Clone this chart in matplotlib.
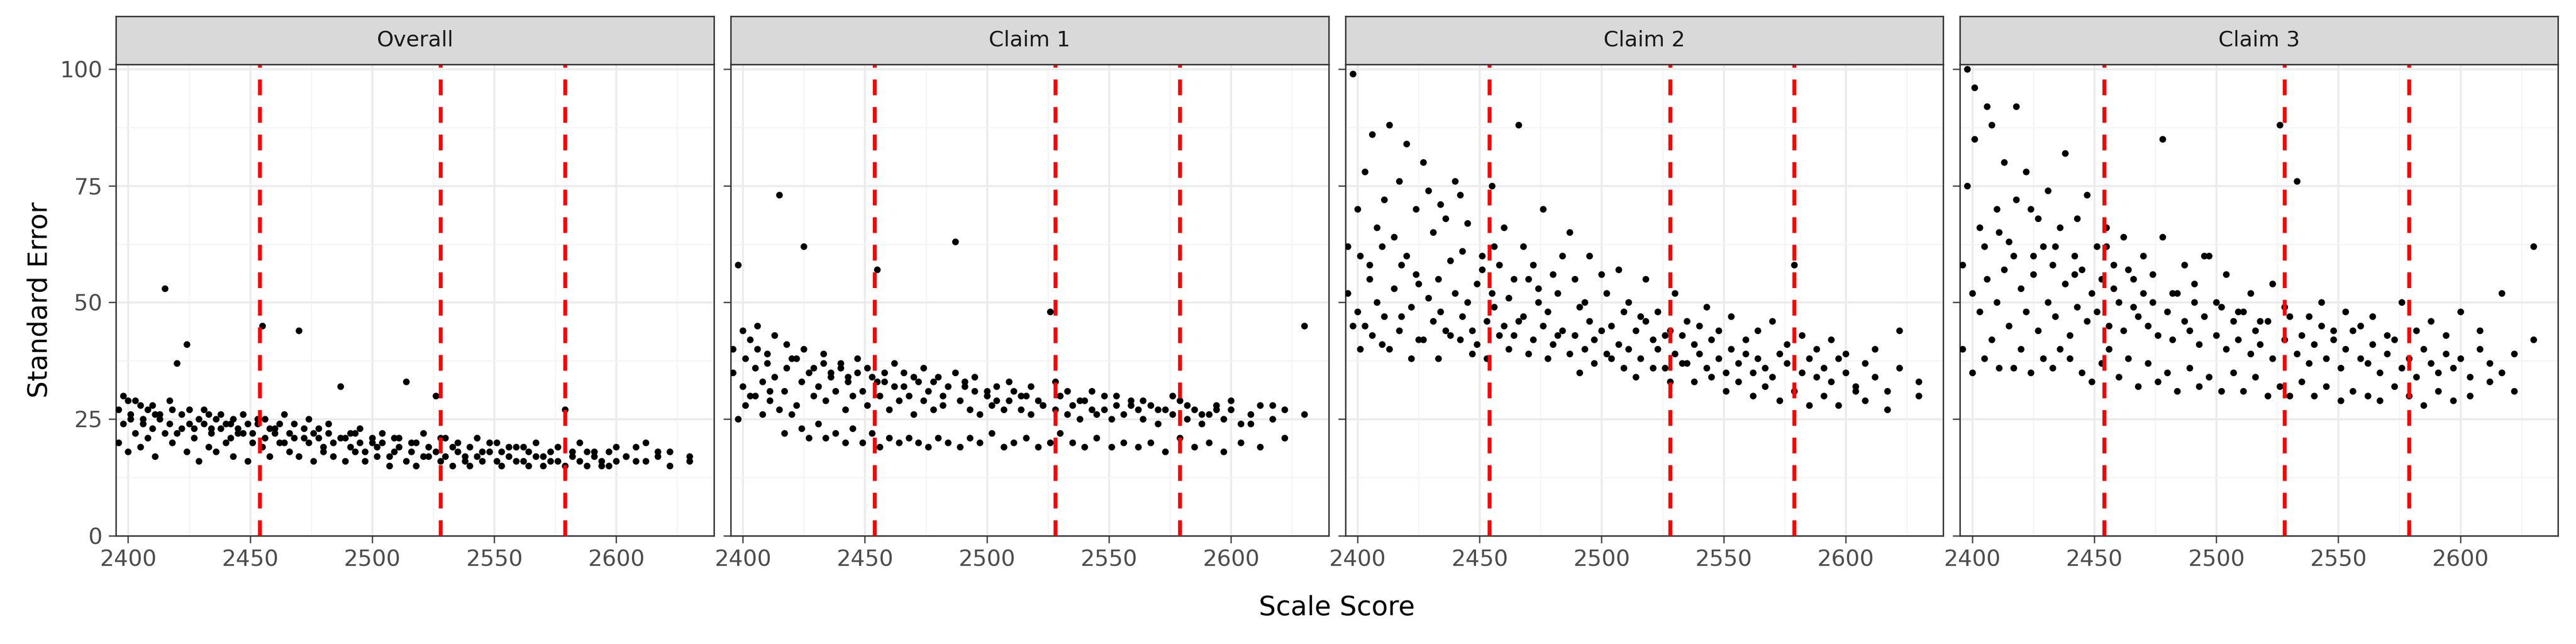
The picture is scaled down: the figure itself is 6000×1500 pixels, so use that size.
import matplotlib.pyplot as plt
from matplotlib.ticker import MultipleLocator

# scale scores (shared across panels)
scale_score = [
    2396, 2398, 2400, 2401, 2403, 2405, 2406, 2408, 2410, 2411,
    2413, 2415, 2417, 2418, 2420, 2422, 2424, 2425, 2427, 2429,
    2431, 2433, 2434, 2436, 2438, 2440, 2442, 2443, 2445, 2447,
    2449, 2451, 2453, 2455, 2456, 2458, 2460, 2462, 2464, 2466,
    2468, 2470, 2472, 2474, 2476, 2478, 2480, 2482, 2484, 2487,
    2489, 2491, 2493, 2495, 2497, 2500, 2502, 2504, 2507, 2509,
    2511, 2514, 2516, 2518, 2521, 2523, 2526, 2528, 2530, 2533,
    2535, 2538, 2540, 2543, 2545, 2548, 2551, 2553, 2556, 2559,
    2562, 2564, 2567, 2570, 2573, 2576, 2579, 2582, 2585, 2588,
    2591, 2594, 2597, 2600, 2604, 2608, 2612, 2617, 2622, 2630,
]

overall_a = [
    27, 24, 29, 26, 22, 28, 25, 27, 23, 26, 25, 53, 24, 27, 22, 26, 41, 24, 23, 25,
    24, 26, 22, 25, 23, 24, 21, 25, 23, 22, 24, 22, 25, 45, 21, 23, 22, 24, 20, 22,
    21, 44, 23, 20, 22, 21, 19, 22, 20, 32, 21, 19, 22, 20, 18, 21, 19, 20, 17, 21,
    19, 33, 18, 20, 17, 19, 18, 21, 17, 19, 18, 16, 19, 17, 18, 20, 16, 18, 17, 19,
    16, 18, 17, 15, 18, 16, 27, 17, 16, 18, 17, 15, 18, 16, 17, 19, 16, 17, 18, 16,
]
overall_b = [
    20, 30, 18, 25, 29, 19, 24, 21, 28, 17, 26, 22, 29, 20, 37, 23, 18, 27, 21, 16,
    27, 19, 23, 18, 26, 20, 24, 17, 22, 26, 16, 20, 24, 19, 25, 17, 23, 20, 26, 18,
    24, 17, 21, 25, 16, 23, 18, 24, 17, 21, 16, 22, 18, 23, 16, 20, 17, 22, 15, 18,
    21, 16, 20, 15, 22, 17, 30, 16, 21, 15, 20, 17, 15, 21, 16, 18, 20, 15, 19, 16,
    19, 15, 20, 17, 16, 19, 15, 18, 20, 15, 18, 16, 15, 19, 17, 16, 20, 18, 15, 17,
]
claim1_a = [
    35, 58, 32, 38, 30, 36, 40, 33, 37, 29, 34, 73, 31, 36, 38, 28, 33, 62, 35, 30,
    32, 37, 29, 34, 31, 36, 27, 33, 30, 35, 31, 28, 34, 57, 30, 33, 27, 32, 29, 35,
    30, 26, 33, 29, 31, 27, 34, 28, 32, 63, 29, 33, 27, 31, 26, 30, 28, 32, 27, 29,
    31, 27, 30, 26, 29, 28, 48, 27, 30, 26, 28, 25, 29, 27, 26, 30, 25, 28, 26, 29,
    27, 25, 28, 24, 27, 26, 29, 25, 27, 24, 26, 28, 25, 27, 24, 26, 28, 25, 27, 45,
]
claim1_b = [
    40, 25, 44, 28, 42, 30, 45, 26, 39, 31, 43, 27, 22, 41, 26, 38, 23, 40, 21, 36,
    24, 39, 21, 35, 22, 37, 20, 34, 23, 38, 20, 36, 22, 33, 19, 35, 21, 37, 20, 32,
    21, 34, 20, 36, 19, 33, 21, 30, 20, 35, 19, 32, 21, 34, 20, 31, 22, 29, 19, 33,
    20, 30, 21, 32, 19, 28, 20, 33, 22, 31, 20, 29, 19, 31, 21, 27, 19, 30, 20, 28,
    19, 29, 20, 27, 18, 30, 21, 28, 19, 26, 20, 27, 18, 29, 20, 24, 19, 28, 21, 26,
]
claim2_a = [
    52, 99, 48, 60, 45, 55, 86, 50, 62, 47, 88, 53, 44, 58, 84, 49, 56, 42, 80, 51,
    46, 55, 48, 68, 43, 52, 73, 47, 50, 44, 54, 60, 46, 75, 49, 58, 45, 51, 43, 88,
    47, 55, 42, 50, 45, 48, 41, 52, 44, 65, 43, 49, 40, 46, 42, 56, 39, 45, 41, 48,
    40, 44, 38, 46, 42, 40, 36, 44, 39, 43, 37, 41, 39, 36, 42, 38, 35, 40, 37, 39,
    35, 38, 36, 34, 39, 37, 58, 35, 38, 34, 36, 33, 38, 35, 32, 37, 34, 31, 36, 33,
]
claim2_b = [
    62, 45, 70, 40, 78, 58, 43, 66, 41, 72, 40, 64, 76, 47, 60, 38, 70, 54, 42, 74,
    65, 38, 71, 44, 59, 76, 42, 61, 67, 39, 41, 57, 38, 52, 62, 43, 66, 40, 55, 46,
    62, 39, 58, 53, 70, 38, 56, 43, 60, 39, 55, 35, 50, 60, 37, 44, 52, 38, 57, 36,
    50, 34, 47, 55, 36, 48, 43, 33, 52, 37, 46, 33, 45, 49, 34, 44, 31, 47, 33, 42,
    30, 44, 32, 46, 29, 41, 31, 43, 28, 40, 30, 42, 28, 39, 31, 29, 40, 27, 44, 30,
]
claim3_a = [
    58, 100, 52, 96, 48, 62, 55, 88, 50, 65, 57, 45, 60, 92, 53, 48, 70, 56, 44, 62,
    50, 58, 47, 66, 54, 43, 60, 49, 57, 46, 52, 48, 55, 62, 45, 53, 50, 44, 57, 49,
    47, 52, 45, 50, 43, 85, 48, 42, 52, 46, 44, 50, 41, 47, 60, 43, 49, 40, 46, 42,
    48, 39, 44, 41, 46, 38, 88, 42, 47, 39, 43, 37, 41, 45, 38, 42, 36, 40, 44, 38,
    37, 41, 35, 39, 42, 36, 38, 34, 40, 37, 35, 39, 36, 38, 34, 40, 37, 35, 39, 42,
]
claim3_b = [
    40, 75, 35, 85, 66, 38, 92, 42, 70, 36, 80, 63, 36, 72, 40, 78, 35, 60, 68, 38,
    74, 36, 62, 40, 82, 38, 56, 68, 35, 73, 33, 62, 37, 66, 40, 58, 34, 64, 38, 55,
    32, 60, 37, 56, 33, 64, 35, 52, 31, 58, 36, 54, 32, 60, 34, 50, 31, 56, 35, 48,
    31, 52, 34, 46, 30, 54, 32, 49, 30, 76, 33, 47, 30, 50, 32, 44, 29, 48, 31, 45,
    30, 47, 29, 43, 32, 50, 30, 44, 28, 46, 31, 43, 29, 48, 30, 44, 33, 52, 31, 62,
]

panels = ["Overall", "Claim 1", "Claim 2", "Claim 3"]
panel_data = [(overall_a, overall_b), (claim1_a, claim1_b),
              (claim2_a, claim2_b), (claim3_a, claim3_b)]
cut_scores = [2454, 2528, 2579]

fig = plt.figure(figsize=(20, 5), dpi=300)
left, right, gap = 0.045, 0.993, 0.0065
width = (right - left - 3 * gap) / 4
bottom, height, strip_h = 0.168, 0.732, 0.075

for i, (name, (ya, yb)) in enumerate(zip(panels, panel_data)):
    x0 = left + i * (width + gap)
    ax = fig.add_axes([x0, bottom, width, height])
    ax.scatter(scale_score, ya, s=14, color="black", linewidths=0, zorder=3)
    ax.scatter(scale_score, yb, s=14, color="black", linewidths=0, zorder=3)
    for c in cut_scores:
        ax.axvline(c, color="red", linestyle=(0, (4, 3)), linewidth=2.2, zorder=4)
    ax.set_xlim(2395, 2640)
    ax.set_ylim(0, 101)
    ax.xaxis.set_major_locator(MultipleLocator(50))
    ax.xaxis.set_minor_locator(MultipleLocator(25))
    ax.yaxis.set_major_locator(MultipleLocator(25))
    ax.yaxis.set_minor_locator(MultipleLocator(12.5))
    ax.grid(which="major", color="#ebebeb", linewidth=1.1, zorder=0)
    ax.grid(which="minor", color="#f4f4f4", linewidth=0.6, zorder=0)
    ax.tick_params(which="minor", length=0)
    ax.tick_params(which="major", labelsize=12.5, colors="#4d4d4d", length=4)
    for sp in ax.spines.values():
        sp.set_color("#333333")
        sp.set_linewidth(0.8)
    if i > 0:
        ax.set_yticklabels([])
    else:
        ax.set_ylabel("Standard Error", fontsize=15)
    sax = fig.add_axes([x0, bottom + height, width, strip_h])
    sax.set_facecolor("#d9d9d9")
    sax.set_xticks([])
    sax.set_yticks([])
    for sp in sax.spines.values():
        sp.set_color("#333333")
        sp.set_linewidth(0.8)
    sax.text(0.5, 0.5, name, ha="center", va="center", fontsize=12,
             color="#1a1a1a", transform=sax.transAxes)

fig.text((left + right) / 2, 0.045, "Scale Score", ha="center", fontsize=15)
fig.savefig("out.png", dpi=300)
